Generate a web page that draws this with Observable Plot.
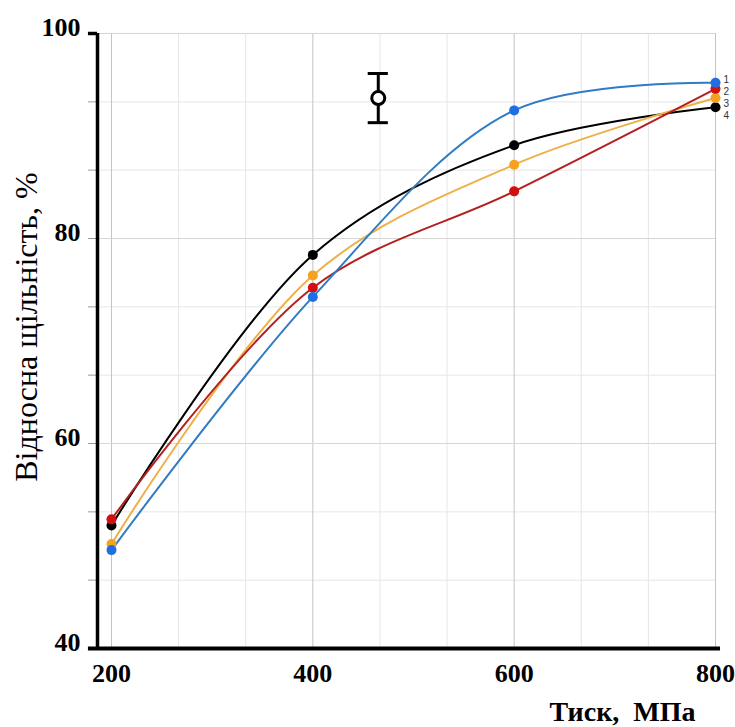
<!DOCTYPE html>
<html>
<head>
<meta charset="utf-8">
<script src="https://cdn.jsdelivr.net/npm/d3@7"></script>
<script src="https://cdn.jsdelivr.net/npm/@observablehq/plot@0.6"></script>
<style>
  html, body { margin: 0; padding: 0; background: #fff; }
</style>
</head>
<body>
<div id="chart"></div>
<script>
// ---- data ----
const pressure = [200, 400, 600, 800];
const series1 = [49.6, 74.3, 92.5, 95.2]; // blue
const series2 = [52.6, 75.2, 84.6, 94.6]; // red
const series3 = [50.2, 76.4, 87.2, 93.7]; // orange
const series4 = [52.0, 78.4, 89.1, 92.8]; // black
const seriesNames = ["1", "2", "3", "4"];
const xTicks = [200, 400, 600, 800];
const yTicks = [40, 60, 80, 100];
const xMinor = [266.67, 333.33, 466.67, 533.33, 666.67, 733.33];
const yMinor = [46.67, 53.33, 66.67, 73.33, 86.67, 93.33];
const errX = [465];
const errMean = [93.7];
const errLow = [91.3];
const errHigh = [96.1];
const xTitle = "Тиск,\u00a0\u00a0МПа";
const yTitle = "Відносна щільність, %";

// ---- styling ----
const colors = ["#2f7bc4", "#b3201f", "#efb048", "#000000"];
const dotColors = ["#1f6fe0", "#d40f0f", "#f5a21e", "#000000"];
const labelDy = [-3, 3, 6, 8];
const allSeries = [series1, series2, series3, series4];

const rows = [];
allSeries.forEach((s, i) => s.forEach((v, j) => rows.push({x: pressure[j], y: v, k: i})));
const err = errX.map((x, i) => ({x, m: errMean[i], lo: errLow[i], hi: errHigh[i]}));

const xMin = 186.1;
const drawOrder = [3, 2, 1, 0];

const marks = [
  Plot.ruleX(xMinor, {stroke: "#e6e6e6", strokeWidth: 1}),
  Plot.ruleY(yMinor, {stroke: "#e6e6e6", strokeWidth: 1}),
  Plot.ruleX(xTicks, {stroke: "#c4c4c4", strokeWidth: 1}),
  Plot.ruleY(yTicks, {stroke: "#d6d6d6", strokeWidth: 1}),
  // small ticks left of the y axis
  Plot.ruleY(yMinor.concat([60, 80]), {x1: xMin - 9, x2: xMin, stroke: "#999", strokeWidth: 1}),
  Plot.ruleY([100], {x1: xMin - 9, x2: xMin, stroke: "#000", strokeWidth: 3.5}),
];

for (const i of drawOrder) {
  const d = rows.filter(r => r.k === i);
  marks.push(Plot.line(d, {x: "x", y: "y", curve: "catmull-rom", stroke: colors[i], strokeWidth: 2}));
}
for (const i of drawOrder) {
  const d = rows.filter(r => r.k === i);
  marks.push(Plot.dot(d, {x: "x", y: "y", r: 5, fill: dotColors[i], stroke: "none"}));
  const last = d.filter(r => r.x === 800);
  marks.push(Plot.text(last, {x: "x", y: "y", text: () => seriesNames[i], dx: 8, dy: labelDy[i],
    textAnchor: "start", fontSize: 10, fill: "#333", fontFamily: "'Liberation Sans', Arial, sans-serif"}));
}

// error bar marker
marks.push(
  Plot.ruleX(err, {x: "x", y1: "lo", y2: "hi", stroke: "#000", strokeWidth: 3}),
  Plot.ruleY(err, {y: "hi", x1: d => d.x - 10, x2: d => d.x + 10, stroke: "#000", strokeWidth: 3}),
  Plot.ruleY(err, {y: "lo", x1: d => d.x - 10, x2: d => d.x + 10, stroke: "#000", strokeWidth: 3}),
  Plot.dot(err, {x: "x", y: "m", r: 6.5, fill: "#fff", stroke: "#000", strokeWidth: 3})
);

// axes lines
marks.push(
  Plot.ruleX([xMin], {y1: 40, y2: 100, stroke: "#000", strokeWidth: 3.5}),
  Plot.ruleY([40], {x1: xMin - 9, x2: 805, stroke: "#000", strokeWidth: 4})
);

// tick labels
marks.push(
  Plot.axisX({ticks: xTicks, tickSize: 0, tickPadding: 15, fontSize: 26, fontWeight: "bold", label: null, tickFormat: d => String(d)}),
  Plot.axisY({ticks: yTicks, tickSize: 0, tickPadding: 17, fontSize: 26, fontWeight: "bold", label: null, dy: -6, tickFormat: d => String(d)}),
  Plot.text([xTitle], {frameAnchor: "bottom-right", textAnchor: "end", lineAnchor: "middle", dx: -20, dy: 64,
    fontSize: 28, fontWeight: "bold", fill: "#000"}),
  Plot.text([yTitle], {frameAnchor: "left", rotate: -90, textAnchor: "middle", lineAnchor: "middle", dx: -71, dy: -14,
    fontSize: 32, fill: "#000"})
);

const chart = Plot.plot({
  width: 735,
  height: 727,
  marginLeft: 97,
  marginRight: 20,
  marginTop: 33,
  marginBottom: 79,
  x: {domain: [xMin, 800]},
  y: {domain: [40, 100]},
  style: {fontFamily: "'Liberation Serif', 'Times New Roman', serif", background: "#fff", color: "#000"},
  marks
});
document.getElementById("chart").appendChild(chart);
</script>
</body>
</html>
